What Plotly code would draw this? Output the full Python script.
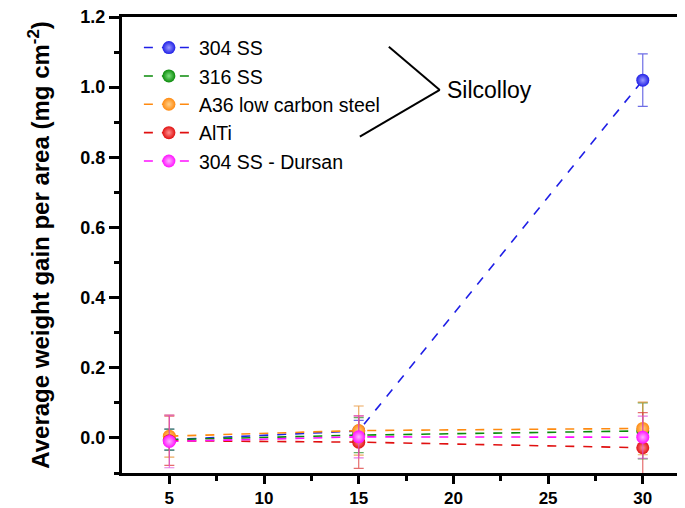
import plotly.graph_objects as go

# ---- data ----
times = [5, 15, 30]
series_names = ["304 SS", "316 SS", "A36 low carbon steel", "AlTi", "304 SS - Dursan"]
y_304 = [-0.005, 0.020, 1.020]
e_304 = [0.030, 0.030, 0.075]
y_316 = [-0.005, 0.008, 0.020]
e_316 = [0.030, 0.050, 0.080]
y_a36 = [0.005, 0.021, 0.027]
e_a36 = [0.060, 0.070, 0.075]
y_alti = [-0.008, -0.012, -0.028]
e_alti = [0.070, 0.075, 0.100]
y_dur = [-0.010, 0.003, 0.002]
e_dur = [0.075, 0.060, 0.060]
x_ticks = [5, 10, 15, 20, 25, 30]
y_ticks = [0.0, 0.2, 0.4, 0.6, 0.8, 1.0, 1.2]
y_tick_text = ["0.0", "0.2", "0.4", "0.6", "0.8", "1.0", "1.2"]

styles = [
    ("#1f1fe6", "#9a9aff", "rgba(60,60,220,0.75)"),
    ("#0a8a0a", "#7fe07f", "rgba(40,140,40,0.7)"),
    ("#ff8a10", "#ffd08a", "rgba(230,140,40,0.75)"),
    ("#e01010", "#ff9090", "rgba(220,60,60,0.75)"),
    ("#ff10ff", "#ffb0ff", "rgba(220,80,220,0.75)"),
]
ys = [y_304, y_316, y_a36, y_alti, y_dur]
es = [e_304, e_316, e_a36, e_alti, e_dur]

fig = go.Figure()
for name, y, e, (c, cg, ce) in zip(series_names, ys, es, styles):
    fig.add_trace(go.Scatter(
        x=times, y=y, name=name, mode="lines+markers",
        line=dict(color=c, width=1.6, dash="dash"),
        marker=dict(size=13, color=c, line=dict(width=0),
                    gradient=dict(type="radial", color=cg)),
        error_y=dict(type="data", array=e, visible=True, color=ce,
                     thickness=1.2, width=5),
    ))

font_family = "Liberation Sans, Arial, sans-serif"

# page body has an 8px default margin: figure is sized to fill the 685x508 window
fig.update_layout(
    width=677, height=500,
    margin=dict(l=114, r=0, t=9, b=35),
    paper_bgcolor="white", plot_bgcolor="white",
    showlegend=True,
    legend=dict(x=0.03, y=0.975, xanchor="left", yanchor="top",
                font=dict(family=font_family, size=19.5, color="black"),
                bgcolor="rgba(0,0,0,0)", itemwidth=50, tracegroupgap=0),
    font=dict(family=font_family, color="black"),
    xaxis=dict(range=[2.5, 32.23], tickvals=x_ticks, ticks="outside",
               ticklen=8, tickwidth=3, tickcolor="black", automargin=False,
               showline=True, linewidth=3, linecolor="black", mirror=True,
               showgrid=False, zeroline=False, ticklabeloverflow="allow",
               tickfont=dict(family=font_family, size=17, color="black", weight="bold"),
               minor=dict(tickvals=[7.5, 12.5, 17.5, 22.5, 27.5], ticks="outside",
                          ticklen=5, tickwidth=3, tickcolor="black")),
    yaxis=dict(range=[-0.1, 1.2], tickvals=y_ticks, ticktext=y_tick_text,
               ticks="outside", ticklen=10, tickwidth=3, tickcolor="black",
               automargin=False,
               showline=True, linewidth=3, linecolor="black", mirror=False,
               showgrid=False, zeroline=False, ticklabeloverflow="allow",
               tickfont=dict(family=font_family, size=18, color="black", weight="bold"),
               title=dict(text="Average weight gain per area (mg cm<sup>-2</sup>)",
                          font=dict(family=font_family, size=24, color="black", weight="bold"),
                          standoff=24),
               minor=dict(tickvals=[-0.1, 0.1, 0.3, 0.5, 0.7, 0.9, 1.1], ticks="outside",
                          ticklen=5, tickwidth=3, tickcolor="black")),
)

# "Silcolloy" bracket annotation (data coordinates)
brace_top = (16.59, 1.115)
brace_tip = (19.28, 0.992)
brace_bot = (15.06, 0.859)
for (x0, y0) in (brace_top, brace_bot):
    fig.add_shape(type="line", x0=x0, y0=y0, x1=brace_tip[0], y1=brace_tip[1],
                  xref="x", yref="y", line=dict(color="black", width=2))
fig.add_annotation(x=brace_tip[0] + 0.25, y=brace_tip[1], text="Silcolloy",
                   xref="x", yref="y", xanchor="left", yanchor="middle",
                   showarrow=False,
                   font=dict(family=font_family, size=23, color="black"))

fig.write_html("out.html")
